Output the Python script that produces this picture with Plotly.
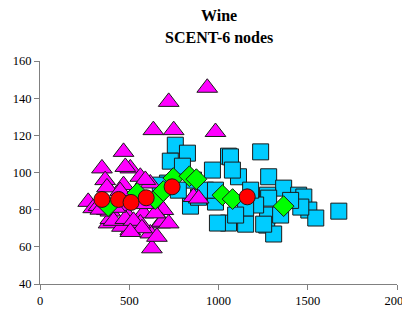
import plotly.graph_objects as go

# Magenta triangles
tri_x = [937, 721, 635, 749, 983, 468, 347, 506, 365, 562, 468, 618, 270, 298, 375, 449,
         496, 580, 691, 674, 618, 627, 506, 384, 562, 459, 684, 721, 655, 860, 889,
         478, 375, 449, 590, 394, 328, 394, 412, 478, 524, 571, 506, 646, 580, 422, 338]
tri_y = [145.6, 138, 122.8, 122.8, 121.8, 111.1, 102.2, 102.2, 95.9, 97.7, 93.2, 94.1, 84.2, 80.8, 79.8, 81.4,
         76.2, 78, 79.8, 72.6, 67.2, 59.2, 69, 72.6, 72.6, 70.8, 73.5, 72.6, 65.4, 86.8, 86,
         103, 92, 90, 96, 75, 82, 79, 74, 75, 74, 70, 68, 78, 83, 81, 80]

# Cyan squares
sq_x = [758, 826, 730, 798, 966, 1056, 1236, 1067, 1112, 1281, 1365, 1449, 1478, 1506, 1545, 1674,
        1275, 1270, 1309, 1275, 1281, 1208, 1152, 1056, 1152, 1253, 983, 994, 843, 860, 775, 714,
        674, 888, 1461, 1078, 927, 983, 1096, 1180, 1348, 1404]
sq_y = [114.7, 110.4, 106.1, 103.4, 101.3, 108.8, 111.1, 108.4, 97.7, 97.7, 91.6, 87.8, 86.8, 79.8, 75.5, 79.2,
        77.1, 71.7, 66.9, 87.8, 86.2, 82.5, 80.8, 72.8, 72.2, 72.2, 84.1, 72.8, 81.9, 95.9, 90.5, 94.3,
        93.2, 86.7, 81.4, 101.3, 90.5, 90.5, 77.1, 90.5, 77.1, 85]

# Green diamonds
dia_x = [382, 545, 646, 691, 747, 837, 876, 1022, 1079, 1365]
dia_y = [81.9, 88.9, 85.7, 90, 97, 98, 96.4, 87.8, 85.7, 81.9]

# Red circles
cir_x = [347, 440, 510, 595, 740, 1161]
cir_y = [85.5, 85.5, 83.9, 86.4, 92.3, 86.9]

title_lines = ["Wine", "SCENT-6 nodes"]

fig = go.Figure()
fig.add_trace(go.Scatter(x=sq_x, y=sq_y, mode="markers",
                         marker=dict(symbol="square", size=16, color="#00CCFF",
                                     line=dict(color="#1a1a1a", width=1))))
fig.add_trace(go.Scatter(x=tri_x, y=tri_y, mode="markers",
                         marker=dict(symbol="triangle-up", size=18, color="#FF00FF",
                                     line=dict(color="#1a1a1a", width=1))))
fig.add_trace(go.Scatter(x=dia_x, y=dia_y, mode="markers",
                         marker=dict(symbol="diamond", size=16, color="#00FF00",
                                     line=dict(color="#1a1a1a", width=1))))
fig.add_trace(go.Scatter(x=cir_x, y=cir_y, mode="markers",
                         marker=dict(symbol="circle", size=16, color="#FF0000",
                                     line=dict(color="#1a1a1a", width=1))))

axis_common = dict(showgrid=False, zeroline=False, showline=True, linecolor="#808080",
                   linewidth=1, ticks="outside", ticklen=5, tickcolor="#808080",
                   automargin=False,
                   tickfont=dict(family="Liberation Serif, Times New Roman, serif", size=12.5, color="black"))

# page body has an 8px margin; figure is sized to compensate
T = 53
PH = 223
annotations = []
for txt, ypix in zip(title_lines, [15, 38]):
    annotations.append(dict(text="<b>%s</b>" % txt, xref="paper", yref="paper",
                            x=0.5, xanchor="center",
                            y=1 + (T + 8 - ypix) / float(PH), yanchor="middle",
                            showarrow=False,
                            font=dict(family="Liberation Serif, Times New Roman, serif", size=16, color="black")))

fig.update_layout(
    width=402, height=299,
    margin=dict(l=32, r=13, t=T, b=23),
    paper_bgcolor="white", plot_bgcolor="white",
    showlegend=False,
    annotations=annotations,
    xaxis=dict(range=[0, 2000], dtick=500, tick0=0, ticklabeloverflow="allow", **axis_common),
    yaxis=dict(range=[40, 160], dtick=20, tick0=40, **axis_common),
)

fig.write_html("out.html")
